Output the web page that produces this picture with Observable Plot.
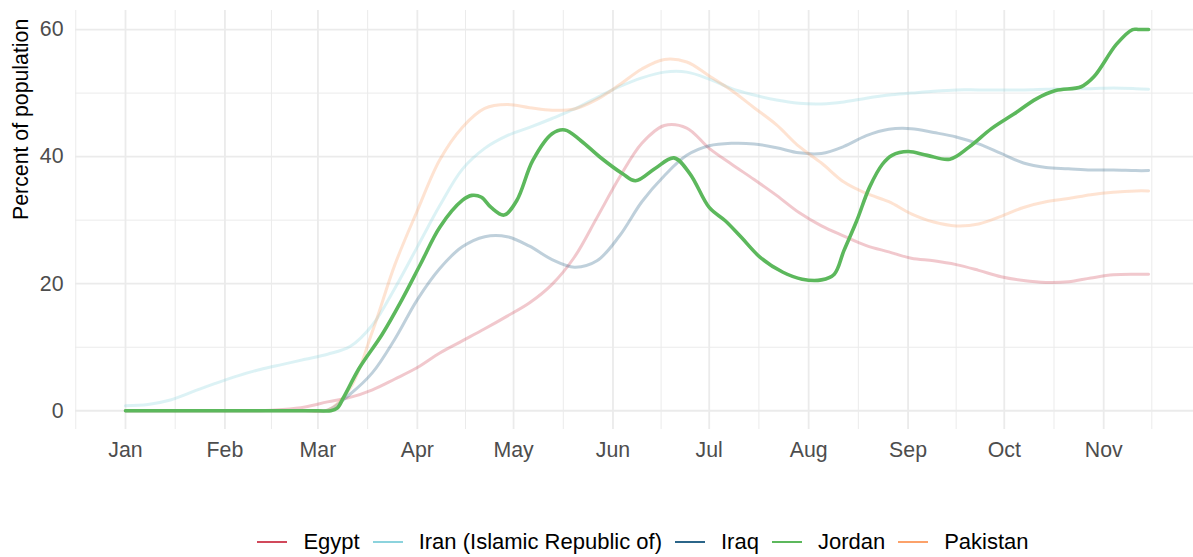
<!DOCTYPE html>
<html><head><meta charset="utf-8">
<script src="https://cdn.jsdelivr.net/npm/d3@7"></script>
<script src="https://cdn.jsdelivr.net/npm/@observablehq/plot@0.6"></script>
<style>
body{margin:0;background:#fff;font-family:"Liberation Sans",Arial,Helvetica,sans-serif;}
#legend{display:flex;justify-content:center;align-items:center;height:36px;width:1193px;padding-left:93px;box-sizing:border-box;font-size:22px;color:#000;}
.item{display:flex;align-items:center;margin-right:13px;white-space:nowrap}
.item:last-child{margin-right:0}
.key{width:30px;height:2px;margin-right:16px}
</style></head><body>
<div id="chart"></div>
<div id="legend"></div>
<script>
const countries = ["Egypt", "Iran (Islamic Republic of)", "Iraq", "Jordan", "Pakistan"];
const colors = ["#D1495B", "#8CD3DD", "#2B6589", "#5CB85C", "#FCA26A"];
const highlighted = "Jordan";

const weekDates = ["2020-01-01","2020-01-08","2020-01-15","2020-01-22","2020-01-29",
  "2020-02-05","2020-02-12","2020-02-19","2020-02-26",
  "2020-03-04","2020-03-11","2020-03-18","2020-03-25",
  "2020-04-01","2020-04-08","2020-04-15","2020-04-22","2020-04-29",
  "2020-05-06","2020-05-13","2020-05-20","2020-05-27",
  "2020-06-03","2020-06-10","2020-06-17","2020-06-24",
  "2020-07-01","2020-07-08","2020-07-15","2020-07-22","2020-07-29",
  "2020-08-05","2020-08-12","2020-08-19","2020-08-26",
  "2020-09-02","2020-09-09","2020-09-16","2020-09-23","2020-09-30",
  "2020-10-07","2020-10-14","2020-10-21","2020-10-28",
  "2020-11-04","2020-11-11","2020-11-15"];

const egypt = [0,0,0,0,0, 0,0,0.2,0.6, 1.4,2.1,3.3,5, 6.8,9.1,11,12.9,14.9,
  17,19.9,24.2,30.4, 36.7,42.1,44.9,44.5, 41.3,38.8,36.4,33.9,31.2,
  29.1,27.5,26,25, 24,23.6,23,22.1,21.1, 20.5,20.2,20.3,20.9, 21.4,21.5,21.5];
const iran = [0.8,1.0,1.7,3.0,4.3, 5.5,6.5,7.3,8.1, 8.9,10.1,13.5,19.3, 25.8,32.3,38,41.3,43.3,
  44.6,46,47.5,49.3, 51,52.4,53.3,53.3, 52.2,50.7,49.7,48.9,48.4,
  48.3,48.6,49.2,49.7, 50,50.3,50.5,50.5,50.5, 50.5,50.6,50.7,50.7, 50.8,50.7,50.6];
const iraq = [0,0,0,0,0, 0,0,0,0, 0.1,2.6,6,11.3, 17.5,22.4,25.8,27.4,27.4,
  25.9,23.8,22.6,23.6, 27.5,32.9,37,40.2, 41.7,42.1,42,41.4,40.6,
  40.5,41.6,43.3,44.3, 44.4,43.8,43.1,42,40.5, 39,38.3,38.1,37.9, 37.9,37.8,37.8];
const pakistan = [0,0,0,0,0, 0,0,0,0, 0.1,3.5,12.5,23, 31.5,39.5,44.6,47.6,48.2,
  47.7,47.3,47.5,49, 51.3,53.8,55.3,54.9, 52.7,50.4,47.7,45,41.6,
  39,36,34.2,32.9, 31,29.7,29.1,29.4,30.6, 32,32.9,33.4,34, 34.4,34.6,34.6];

const jordanDates = ["2020-01-01","2020-01-15","2020-02-01","2020-02-15","2020-03-01","2020-03-05","2020-03-07","2020-03-09","2020-03-14","2020-03-21","2020-03-27",
  "2020-04-02","2020-04-08","2020-04-15","2020-04-18","2020-04-21","2020-04-24","2020-04-28",
  "2020-05-02","2020-05-07","2020-05-13","2020-05-17","2020-05-22","2020-05-28",
  "2020-06-04","2020-06-08","2020-06-14","2020-06-20","2020-06-25",
  "2020-07-01","2020-07-06","2020-07-11","2020-07-17","2020-07-24","2020-07-30",
  "2020-08-05","2020-08-09","2020-08-12","2020-08-16","2020-08-20","2020-08-24","2020-08-27",
  "2020-09-01","2020-09-07","2020-09-14","2020-09-20","2020-09-27",
  "2020-10-04","2020-10-11","2020-10-17","2020-10-25","2020-10-29",
  "2020-11-05","2020-11-10","2020-11-12","2020-11-15"];
const jordan = [0,0,0,0,0,0,0.4,2.1,6.8,12,17.3,
  23.1,28.9,33.1,33.9,33.6,32,30.8,
  33.1,39.4,43.6,44.2,42.5,39.9,
  37.3,36.2,38.1,39.8,37.3,
  32,29.9,27.3,24.1,21.8,20.7,
  20.6,21.5,25.2,29.9,35.2,38.8,40.2,
  40.8,40.2,39.6,41.5,44.4,
  46.7,49.1,50.4,51,52.6,
  57.7,60,60,60];

const yTicks = [0, 20, 40, 60];
const yMinor = [10, 30, 50];
const monthTicks = ["2020-01-01","2020-02-01","2020-03-01","2020-04-01","2020-05-01","2020-06-01",
  "2020-07-01","2020-08-01","2020-09-01","2020-10-01","2020-11-01"];
const yLabel = "Percent of population";

// ---- build tables ----
const parse = s => new Date(s + "T00:00:00Z");
const faded = [];
[["Egypt", egypt], ["Iran (Islamic Republic of)", iran], ["Iraq", iraq], ["Pakistan", pakistan]]
  .forEach(([c, vals]) => vals.forEach((v, i) => faded.push({country: c, date: parse(weekDates[i]), value: v})));
const jordanRows = jordan.map((v, i) => ({country: highlighted, date: parse(jordanDates[i]), value: v}));

const majors = monthTicks.map(parse);
const bounds = [parse("2019-12-01"), ...majors, parse("2020-12-01")];
const minors = d3.pairs(bounds).map(([a, b]) => new Date((+a + +b) / 2));

const day = 864e5;
const jan1 = +parse("2020-01-01");
const xDomain = [new Date(jan1 - 15.59 * day), new Date(jan1 + 333.0 * day)];

const grid = "#ebebeb";
const chart = Plot.plot({
  width: 1193,
  height: 524,
  marginLeft: 75,
  marginRight: 0,
  marginTop: 10,
  marginBottom: 95,
  style: {fontFamily: '"Liberation Sans", Arial, Helvetica, sans-serif', background: "#fff"},
  x: {type: "utc", domain: xDomain},
  y: {domain: [-2.95, 63]},
  color: {domain: countries, range: colors},
  marks: [
    Plot.ruleY(yMinor, {stroke: grid, strokeWidth: 1}),
    Plot.ruleY(yTicks, {stroke: grid, strokeWidth: 1.8}),
    Plot.ruleX(minors, {stroke: grid, strokeWidth: 1}),
    Plot.ruleX(majors, {stroke: grid, strokeWidth: 1.8}),
    Plot.line(faded, {x: "date", y: "value", z: "country", stroke: "country", strokeOpacity: 0.3, strokeWidth: 3, curve: "catmull-rom"}),
    Plot.line(jordanRows, {x: "date", y: "value", stroke: "country", strokeWidth: 3.6, curve: "catmull-rom"}),
    Plot.axisX(majors, {tickSize: 0, tickPadding: 12, tickFormat: d3.utcFormat("%b"), fontSize: 21.3, fill: "#4d4d4d", label: null}),
    Plot.axisY(yTicks, {tickSize: 0, tickPadding: 12, fontSize: 21.3, fill: "#4d4d4d", label: null}),
    Plot.text([yLabel], {text: d => d, frameAnchor: "left", rotate: -90, dx: -54, fontSize: 21.3, fill: "#000"})
  ]
});
document.getElementById("chart").appendChild(chart);

const legend = document.getElementById("legend");
countries.forEach((c, i) => {
  const item = document.createElement("div");
  item.className = "item";
  const key = document.createElement("span");
  key.className = "key";
  key.style.background = colors[i];
  const label = document.createElement("span");
  label.textContent = c;
  item.appendChild(key);
  item.appendChild(label);
  legend.appendChild(item);
});
</script>
</body></html>
